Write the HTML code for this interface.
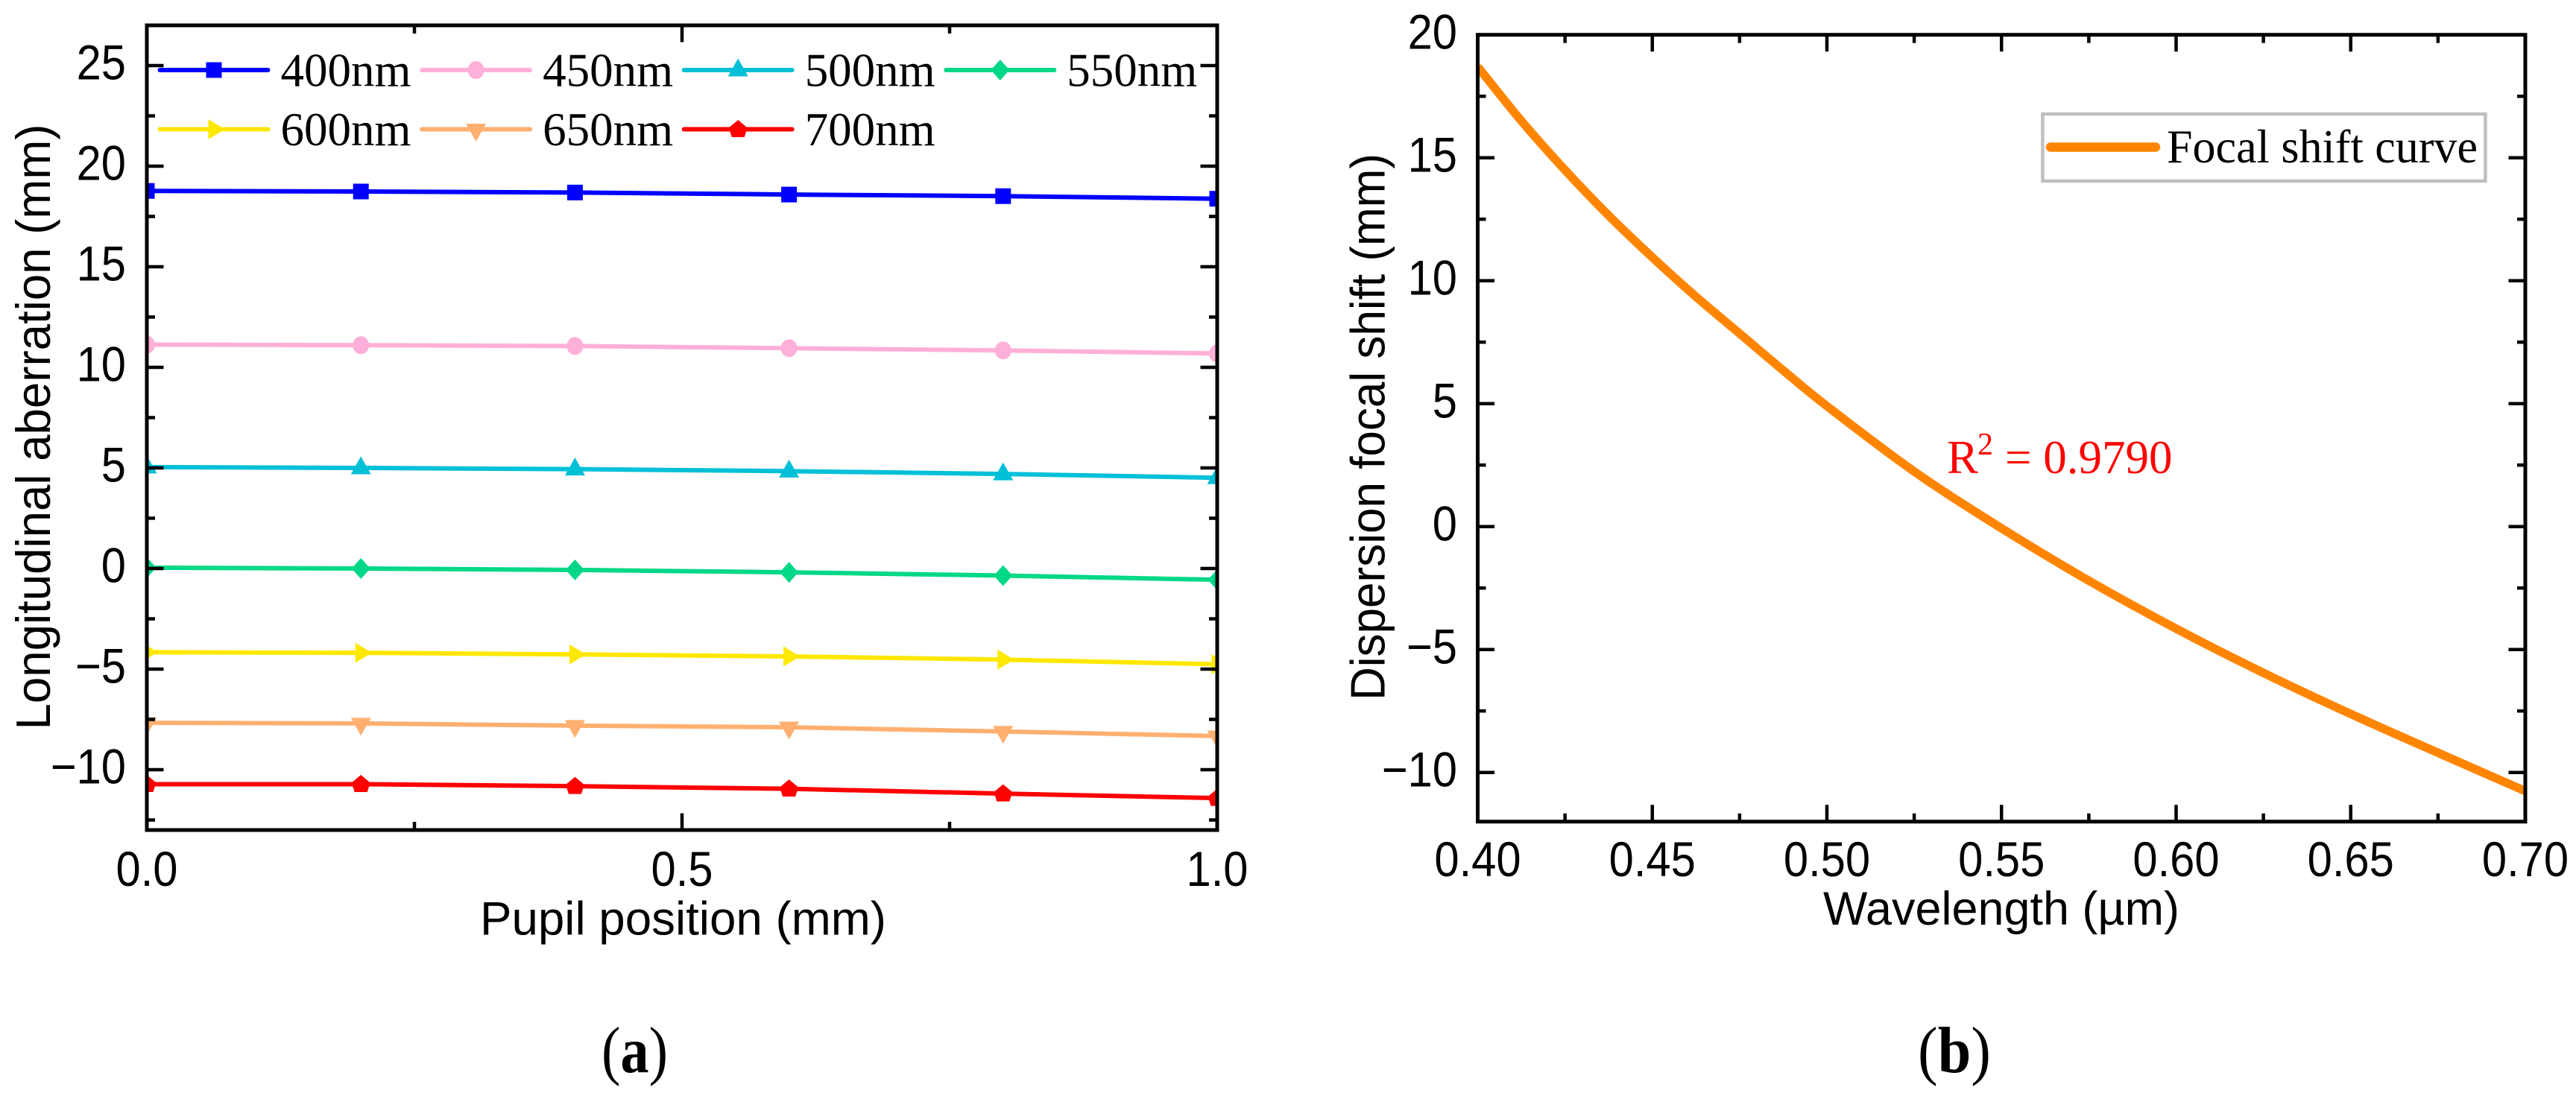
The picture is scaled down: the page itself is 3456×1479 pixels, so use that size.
<!DOCTYPE html>
<html lang="en">
<head>
<meta charset="utf-8">
<title>Longitudinal aberration and dispersion focal shift</title>
<style>
html,body{margin:0;padding:0;background:#fff;width:3456px;height:1479px;overflow:hidden}
svg{display:block}
text{font-family:"Liberation Sans",sans-serif;fill:#000}
.serif{font-family:"Liberation Serif",serif}
</style>
</head>
<body>
<svg id="figure" xmlns="http://www.w3.org/2000/svg" width="3456" height="1479" viewBox="0 0 3456 1479">
  <defs>
    <clipPath id="clip-a"><rect x="197" y="34" width="1436" height="1080"/></clipPath>
    <clipPath id="clip-b"><rect x="1982.5" y="46.7" width="1405.5" height="1056"/></clipPath>
  </defs>
  <rect x="0" y="0" width="3456" height="1479" fill="#fff"/>
  <g id="panel-a"></g>
  <g id="panel-b"></g>

  <text x="644" y="1254.5" font-size="63" textLength="545" lengthAdjust="spacingAndGlyphs">Pupil position (mm)</text>
  <text transform="translate(67 979.5) rotate(-90)" font-size="65" textLength="813" lengthAdjust="spacingAndGlyphs">Longitudinal aberration (mm)</text>
  <text x="2446" y="1241" font-size="63" textLength="478" lengthAdjust="spacingAndGlyphs">Wavelength (µm)</text>
  <text transform="translate(1857.5 940) rotate(-90)" font-size="65" textLength="734" lengthAdjust="spacingAndGlyphs">Dispersion focal shift (mm)</text>

  <g>
    <rect x="2740.4" y="153" width="594" height="90" fill="#fff" stroke="#c0c0c0" stroke-width="4.5"/>
    <line x1="2751" y1="197.5" x2="2892" y2="197.5" stroke="#ff8500" stroke-width="12.5" stroke-linecap="round"/>
    <text class="serif" x="2907" y="218" font-size="64" textLength="417" lengthAdjust="spacingAndGlyphs">Focal shift curve</text>
  </g>

  <g>
    <text class="serif" x="2612" y="635" font-size="63" style="fill:#ff0000">R</text>
    <text class="serif" x="2653" y="610" font-size="42" style="fill:#ff0000">2</text>
    <text class="serif" x="2690" y="635" font-size="63" style="fill:#ff0000">= 0.9790</text>
  </g>

  <text class="serif" x="807" y="1439" font-size="88" textLength="89" lengthAdjust="spacingAndGlyphs">(<tspan font-weight="bold">a</tspan>)</text>
  <text class="serif" x="2573" y="1439" font-size="88" textLength="98" lengthAdjust="spacingAndGlyphs">(<tspan font-weight="bold">b</tspan>)</text>
</svg>

<script>
// ---- Panel (a) data ----
const pupilPositions = [0.0, 0.2, 0.4, 0.6, 0.8, 1.0];
const seriesNames = ['400nm', '450nm', '500nm', '550nm', '600nm', '650nm', '700nm'];
const seriesColors = ['#0000ff', '#ffb0d8', '#00c0d8', '#00d888', '#ffe800', '#ffb070', '#ff0000'];
const seriesShapes = ['square', 'circle', 'triangle-up', 'diamond', 'triangle-right', 'triangle-down', 'pentagon'];
const values400 = [18.77, 18.74, 18.69, 18.59, 18.51, 18.38];
const values450 = [11.13, 11.10, 11.06, 10.95, 10.84, 10.69];
const values500 = [5.04, 5.00, 4.94, 4.84, 4.70, 4.51];
const values550 = [0.04, 0.00, -0.07, -0.19, -0.35, -0.56];
const values600 = [-4.16, -4.19, -4.27, -4.37, -4.53, -4.76];
const values650 = [-7.67, -7.70, -7.81, -7.89, -8.10, -8.33];
const values700 = [-10.72, -10.72, -10.82, -10.95, -11.19, -11.41];
const xTicksA = [0.0, 0.5, 1.0];
const xTickLabelsA = ['0.0', '0.5', '1.0'];
const xMinorTicksA = [0.25, 0.75];
const yTicksA = [25, 20, 15, 10, 5, 0, -5, -10];
const yTickLabelsA = ['25', '20', '15', '10', '5', '0', '\u22125', '\u221210'];
const yMinorTicksA = [22.5, 17.5, 12.5, 7.5, 2.5, -2.5, -7.5, -12.5];

// ---- Panel (b) data ----
const wavelengths = [0.40, 0.4125, 0.425, 0.4375, 0.45, 0.4625, 0.475, 0.4875, 0.50, 0.525, 0.55, 0.575, 0.60, 0.625, 0.65, 0.675, 0.70];
const focalShift = [18.7, 16.5, 14.5, 12.65, 10.95, 9.35, 7.85, 6.35, 4.9, 2.24, -0.07, -2.2, -4.15, -5.95, -7.62, -9.2, -10.76];
const xTicksB = [0.40, 0.45, 0.50, 0.55, 0.60, 0.65, 0.70];
const xTickLabelsB = ['0.40', '0.45', '0.50', '0.55', '0.60', '0.65', '0.70'];
const xMinorTicksB = [0.425, 0.475, 0.525, 0.575, 0.625, 0.675];
const yTicksB = [20, 15, 10, 5, 0, -5, -10];
const yTickLabelsB = ['20', '15', '10', '5', '0', '\u22125', '\u221210'];
const yMinorTicksB = [17.5, 12.5, 7.5, 2.5, -2.5, -7.5];

const seriesValues = [values400, values450, values500, values550, values600, values650, values700];

const SVG_NS = 'http://www.w3.org/2000/svg';
const panelA = document.getElementById('panel-a');
const panelB = document.getElementById('panel-b');

// Axis functions
const xA = v => 197 + (v - 0) / (1 - 0) * 1436;
const yA = v => 34 + (27 - v) / (27 - (-13)) * 1080;
const xB = v => 1982.5 + (v - 0.4) / (0.7 - 0.4) * 1405.5;
const yB = v => 46.7 + (20 - v) / (20 - (-12)) * 1056;

function make(parent, tag, attrs) {
  const el = document.createElementNS(SVG_NS, tag);
  for (const k in attrs) el.setAttribute(k, attrs[k]);
  parent.appendChild(el);
  return el;
}

function polygonAround(cx, cy, offsets, parent, color) {
  const pts = offsets.map(p => (cx + p[0]) + ',' + (cy + p[1])).join(' ');
  return make(parent, 'polygon', { points: pts, fill: color });
}

function drawMarker(parent, shape, cx, cy, color) {
  if (shape === 'square') return polygonAround(cx, cy, [[-10.5, -10.5], [10.5, -10.5], [10.5, 10.5], [-10.5, 10.5]], parent, color);
  if (shape === 'circle') return make(parent, 'ellipse', { cx: cx, cy: cy, rx: 11, ry: 12, fill: color });
  if (shape === 'triangle-up') return polygonAround(cx, cy, [[0, -15.5], [13.5, 8.5], [-13.5, 8.5]], parent, color);
  if (shape === 'diamond') return polygonAround(cx, cy, [[0, -14], [12.5, 0], [0, 14], [-12.5, 0]], parent, color);
  if (shape === 'triangle-right') return polygonAround(cx, cy, [[-7.5, -13.5], [14.5, 0], [-7.5, 13.5]], parent, color);
  if (shape === 'triangle-down') return polygonAround(cx, cy, [[-13.5, -7.5], [13.5, -7.5], [0, 16.5]], parent, color);
  return polygonAround(cx, cy, [[0, -12.5], [12.5, -2], [8.5, 10.5], [-8.5, 10.5], [-12.5, -2]], parent, color);
}

// Smooth path through the read points (Catmull-Rom to cubic Bezier)
function smoothPath(pts) {
  let d = 'M' + pts[0][0] + ' ' + pts[0][1];
  for (let i = 0; i < pts.length - 1; i++) {
    const p0 = pts[Math.max(i - 1, 0)], p1 = pts[i], p2 = pts[i + 1], p3 = pts[Math.min(i + 2, pts.length - 1)];
    const c1x = p1[0] + (p2[0] - p0[0]) / 6, c1y = p1[1] + (p2[1] - p0[1]) / 6;
    const c2x = p2[0] - (p3[0] - p1[0]) / 6, c2y = p2[1] - (p3[1] - p1[1]) / 6;
    d += ' C' + c1x + ' ' + c1y + ' ' + c2x + ' ' + c2y + ' ' + p2[0] + ' ' + p2[1];
  }
  return d;
}

function fitLabel(t) {
  const w = t.getComputedTextLength();
  t.setAttribute('textLength', (w * 0.905).toFixed(1));
  t.setAttribute('lengthAdjust', 'spacingAndGlyphs');
}

function drawTickLine(parent, x1, y1, x2, y2, name) {
  const el = make(parent, 'line', { x1: x1, y1: y1, x2: x2, y2: y2, stroke: '#000', 'stroke-width': 4.5 });
  
  
  return el;
}

function drawAxes(parent, box, xFn, yFn, xMajor, xLabels, xMinor, yMajor, yLabels, yMinor, xLabelBase, yLabelRight) {
  const ticks = make(parent, 'g', {});
  
  
  const major = 22.5, minor = 11;
  xMajor.forEach((v, i) => {
    const x = xFn(v);
    if (i > 0 && i < xMajor.length - 1) {
      drawTickLine(ticks, x, box.top, x, box.top + major, 'x-major-tick-top');
      drawTickLine(ticks, x, box.bottom, x, box.bottom - major, 'x-major-tick-bottom');
    }
    const t = make(parent, 't' + 'ext', { x: x, y: xLabelBase, 'font-size': 66, 'text-anchor': 'middle' });
    t.textContent = xLabels[i];
    
    
    fitLabel(t);
  });
  xMinor.forEach(v => {
    const x = xFn(v);
    drawTickLine(ticks, x, box.top, x, box.top + minor, 'x-minor-tick-top');
    drawTickLine(ticks, x, box.bottom, x, box.bottom - minor, 'x-minor-tick-bottom');
  });
  yMajor.forEach((v, i) => {
    const y = yFn(v);
    drawTickLine(ticks, box.left, y, box.left + major, y, 'y-major-tick-left');
    drawTickLine(ticks, box.right, y, box.right - major, y, 'y-major-tick-right');
    const t = make(parent, 't' + 'ext', { x: yLabelRight, y: y + 18.7, 'font-size': 66, 'text-anchor': 'end' });
    t.textContent = yLabels[i];
    
    
    fitLabel(t);
  });
  yMinor.forEach(v => {
    const y = yFn(v);
    drawTickLine(ticks, box.left, y, box.left + minor, y, 'y-minor-tick-left');
    drawTickLine(ticks, box.right, y, box.right - minor, y, 'y-minor-tick-right');
  });
  const frame = make(parent, 'rect', {
    x: box.left, y: box.top, width: box.right - box.left, height: box.bottom - box.top,
    fill: 'none', stroke: '#000', 'stroke-width': 5
  });
  
  
}

// Panel (a) series
const seriesLayer = make(panelA, 'g', { 'clip-path': 'url(#clip-a)' });


seriesNames.forEach((name, s) => {
  const vals = seriesValues[s];
  const group = make(seriesLayer, 'g', {});
  
  
  const pts = pupilPositions.map((p, i) => xA(p) + ',' + yA(vals[i])).join(' ');
  const line = make(group, 'polyline', { points: pts, fill: 'none', stroke: seriesColors[s], 'stroke-width': 6, 'stroke-linejoin': 'round' });
  
  
  pupilPositions.forEach((p, i) => {
    const m = drawMarker(group, seriesShapes[s], xA(p), yA(vals[i]), seriesColors[s]);
    
    
  });
});

drawAxes(panelA, { left: 197, right: 1633, top: 34, bottom: 1114 }, xA, yA,
  xTicksA, xTickLabelsA, xMinorTicksA, yTicksA, yTickLabelsA, yMinorTicksA, 1189, 169);

// Panel (a) legend
const legendA = make(panelA, 'g', {});


seriesNames.forEach((name, s) => {
  const col = s % 4, row = Math.floor(s / 4);
  const lx = 212.5 + col * 351.6;
  const ly = 94 + row * 79.5;
  const entry = make(legendA, 'g', {});
  
  
  const ln = make(entry, 'line', { x1: lx + 2, y1: ly, x2: lx + 147, y2: ly, stroke: seriesColors[s], 'stroke-width': 6, 'stroke-linecap': 'round' });
  
  
  const mk = drawMarker(entry, seriesShapes[s], lx + 74.5, ly, seriesColors[s]);
  
  
  const tx = make(entry, 't' + 'ext', { x: lx + 164, y: ly + 21.5, 'font-size': 64, 'class': 'serif', textLength: 175, lengthAdjust: 'spacingAndGlyphs' });
  tx.textContent = name;
  
  
});

// Panel (b) curve
const curveLayer = make(panelB, 'g', { 'clip-path': 'url(#clip-b)' });


const curvePts = wavelengths.map((w, i) => [xB(w), yB(focalShift[i])]);
const curve = make(curveLayer, 'path', { d: smoothPath(curvePts), fill: 'none', stroke: '#ff8500', 'stroke-width': 11.5, 'stroke-linejoin': 'round' });



drawAxes(panelB, { left: 1982.5, right: 3388, top: 46.7, bottom: 1102.7 }, xB, yB,
  xTicksB, xTickLabelsB, xMinorTicksB, yTicksB, yTickLabelsB, yMinorTicksB, 1176, 1955);
</script>
</body>
</html>
